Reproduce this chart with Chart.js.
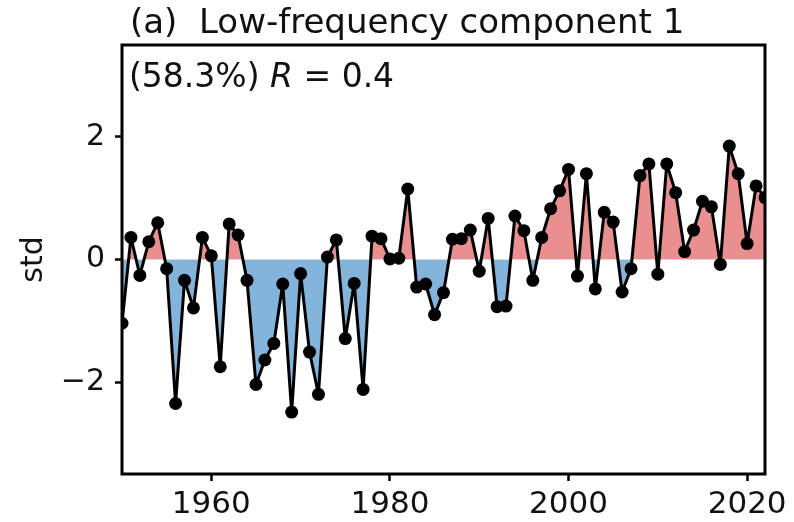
<!DOCTYPE html>
<html>
<head>
<meta charset="utf-8">
<script src="https://cdn.jsdelivr.net/npm/chart.js@4.4.1/dist/chart.umd.min.js"></script>
<style>
  html, body { margin: 0; padding: 0; background: #fff; }
  #wrap { width: 794px; height: 522px; }
</style>
</head>
<body>
<div id="wrap"><canvas id="chart" width="794" height="522"></canvas></div>
<script>
// years 1950..2022
const years = [];
for (let y = 1950; y <= 2022; y++) years.push(y);

// low-frequency component 1 (std)
const values = [
  -1.04, 0.36, -0.26, 0.29, 0.60, -0.15, -2.35, -0.34, -0.79, 0.36,
  0.06, -1.75, 0.58, 0.40, -0.34, -2.04, -1.64, -1.37, -0.40, -2.49,
  -0.23, -1.51, -2.20, 0.04, 0.32, -1.29, -0.39, -2.12, 0.38, 0.34,
  0.01, 0.02, 1.15, -0.45, -0.40, -0.90, -0.54, 0.33, 0.34, 0.48,
  -0.19, 0.67, -0.77, -0.76, 0.71, 0.47, -0.34, 0.36, 0.83, 1.12,
  1.47, -0.27, 1.40, -0.48, 0.77, 0.61, -0.53, -0.15, 1.37, 1.56,
  -0.24, 1.56, 1.09, 0.13, 0.48, 0.95, 0.86, -0.08, 1.85, 1.40,
  0.26, 1.20, 1.01
];

const xTicks = [1960, 1980, 2000, 2020];
const yTicks = [-2, 0, 2];

const FONT = 'DejaVu Sans';

// frame + title + annotation
const decor = {
  id: 'decor',
  afterDraw(chart) {
    const { ctx, chartArea: a } = chart;
    ctx.save();
    ctx.strokeStyle = '#000';
    ctx.lineWidth = 3;
    ctx.strokeRect(a.left, a.top, a.right - a.left, a.bottom - a.top);

    ctx.fillStyle = '#111';
    ctx.textBaseline = 'alphabetic';
    ctx.textAlign = 'left';
    ctx.font = `34px "${FONT}"`;
    ctx.fillText('(a)  Low-frequency component 1', 130, 33);

    let x = 129;
    const y = 87;
    ctx.font = `33px "${FONT}"`;
    ctx.fillText('(58.3%) ', x, y);
    x += ctx.measureText('(58.3%) ').width;
    ctx.font = `italic 33px "${FONT}"`;
    ctx.fillText('R', x, y);
    x += ctx.measureText('R').width;
    ctx.font = `33px "${FONT}"`;
    ctx.fillText(' = 0.4', x, y);
    ctx.restore();
  }
};

new Chart(document.getElementById('chart'), {
  type: 'line',
  data: {
    datasets: [{
      data: years.map((yr, i) => ({ x: yr, y: values[i] })),
      borderColor: '#000',
      borderWidth: 3,
      borderJoinStyle: 'round',
      pointRadius: 6.5,
      pointBackgroundColor: '#000',
      pointBorderColor: '#000',
      pointBorderWidth: 0,
      tension: 0,
      fill: { target: { value: 0 }, above: '#EA8F8F', below: '#82B4DC' }
    }]
  },
  options: {
    responsive: false,
    animation: false,
    layout: { padding: { top: 45, right: 29, bottom: 0, left: 0 } },
    plugins: { legend: { display: false }, tooltip: { enabled: false } },
    scales: {
      x: {
        type: 'linear',
        min: 1950,
        max: 2022,
        afterBuildTicks: s => { s.ticks = xTicks.map(v => ({ value: v })); },
        afterFit: s => { s.height = 48; },
        grid: { drawOnChartArea: false, drawTicks: true, tickLength: 7, tickColor: '#000', tickWidth: 2.5 },
        border: { display: false },
        ticks: {
          color: '#111',
          font: { family: FONT, size: 31 },
          padding: 5,
          maxRotation: 0,
          callback: v => String(v)
        }
      },
      y: {
        min: -3.5,
        max: 3.5,
        afterBuildTicks: s => { s.ticks = yTicks.map(v => ({ value: v })); },
        afterFit: s => { s.width = 122; },
        grid: { drawOnChartArea: false, drawTicks: true, tickLength: 7, tickColor: '#000', tickWidth: 2.5 },
        border: { display: false },
        ticks: {
          color: '#111',
          font: { family: FONT, size: 30 },
          padding: 10,
          callback: v => (v < 0 ? '\u2212' + Math.abs(v) : String(v))
        },
        title: {
          display: true,
          text: 'std',
          color: '#111',
          font: { family: FONT, size: 30 },
          padding: { top: 16, bottom: 0 }
        }
      }
    }
  },
  plugins: [decor]
});
</script>
</body>
</html>
